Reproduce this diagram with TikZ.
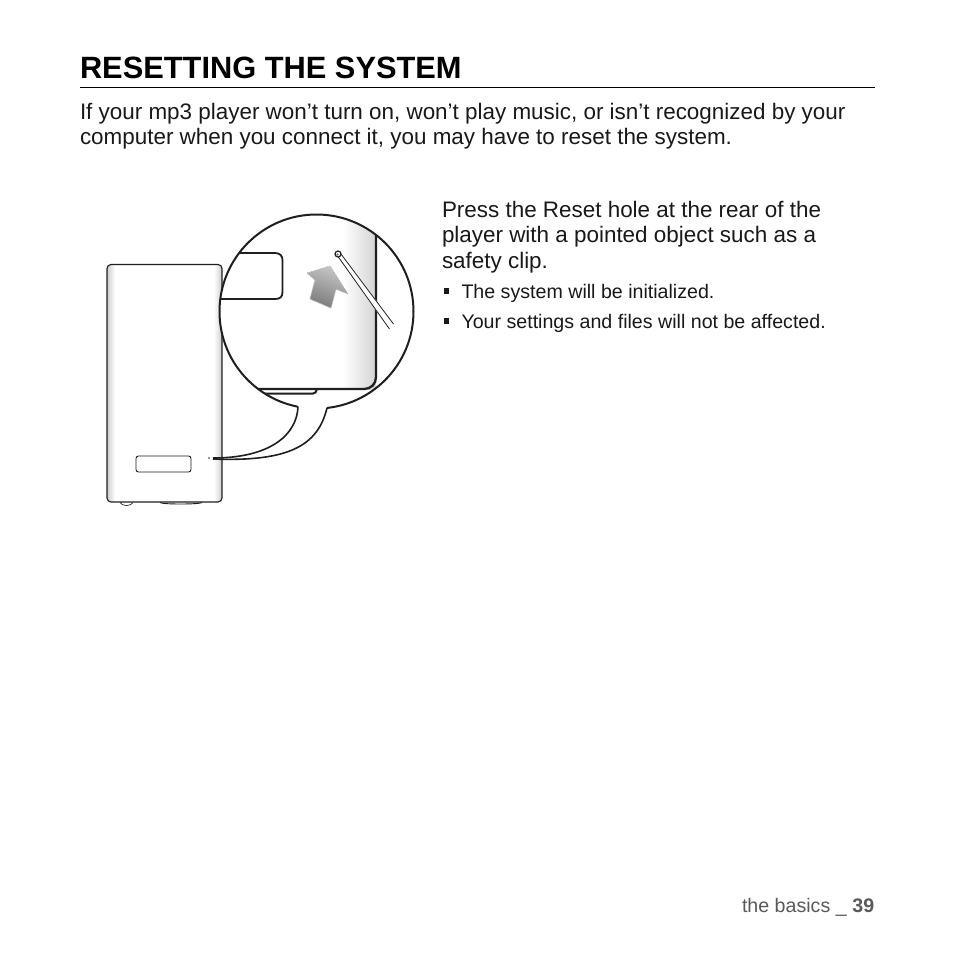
\documentclass[tikz,border=0pt]{standalone}
\usepackage{fontspec}
\setmainfont{Liberation Sans}
\definecolor{ink}{gray}{0.1}
\definecolor{linek}{gray}{0.12}
\tikzset{
  x=1pt,y=-1pt,
  txt/.style={anchor=base west,inner sep=0pt,outer sep=0pt,text=ink},
  body/.style={txt,font=\fontsize{22.43}{26}\selectfont},
  small/.style={txt,font=\fontsize{19.62}{22}\selectfont},
  bulletmark/.style={fill=ink,draw=none},
  outline/.style={draw=linek,line width=1.1pt},
  thick outline/.style={draw=linek,line width=2pt},
}
\begin{document}
\begin{tikzpicture}
\useasboundingbox (0,0) rectangle (954,954);
\fill[white] (0,0) rectangle (954,954);
% heading
\node[txt,font=\bfseries\fontsize{30.8}{34}\selectfont,text=black] (title) at (80,78) {RESETTING THE SYSTEM};
\draw[line width=0.8pt,draw=black] (80,87) coordinate (ruleL) -- (875,87) coordinate (ruleR);
\node[body] (intro1) at (80,119) {If your mp3 player won’t turn on, won’t play music, or isn’t recognized by your};
\node[body] (intro2) at (80,144) {computer when you connect it, you may have to reset the system.};
\node[body] (press1) at (442,217) {Press the Reset hole at the rear of the};
\node[body] (press2) at (442,242) {player with a pointed object such as a};
\node[body] (press3) at (442,268) {safety clip.};
\fill[bulletmark] (444.2,288) rectangle (448.8,293.8);
\node[small] (b1) at (461.5,298) {The system will be initialized.};
\fill[bulletmark] (444.2,318) rectangle (448.8,323.8);
\node[small] (b2) at (461.5,328) {Your settings and files will not be affected.};
\node[txt,font=\fontsize{19.62}{22}\selectfont,text=black!65] (foot) at (742,912) {the basics \_ \textbf{39}};
% player
\begin{scope}
  \clip[rounded corners=4pt] (107,264.5) rectangle (222,502);
  \shade[left color=black!20,right color=white] (107,264) rectangle (115,502);
  \shade[left color=white,right color=black!20] (214,264) rectangle (222,502);
\end{scope}
\draw[outline,rounded corners=4pt] (107,264.5) rectangle (222,502);
\draw[draw=linek,line width=0.9pt,rounded corners=2.5pt] (136,456) rectangle (191,472);
\draw[draw=linek,line width=0.7pt] (120,502.5) .. controls (122,506.5) and (131,506.5) .. (133,502.5);
\draw[draw=linek,line width=0.9pt] (160,502.5) .. controls (161,504.5) and (200,504.5) .. (202,502.5);
\fill[black!55] (209,458) circle (1.1);
% magnifier
\fill[white] (316.5,311.5) circle (97);
\begin{scope}
  \clip (316.5,311.5) circle (97);
  \shade[left color=white,right color=black!17] (343,205) rectangle (376,389);
  \fill[white] (376.8,375) rectangle (420,420);
  \fill[white] (200,390) rectangle (420,420);
  % bottom tab
  \draw[line width=2pt,draw=linek] (258,393.5) -- (313,393.5) .. controls (315,393.5) and (316.5,392) .. (317,389);
  % device edge
  \draw[line width=2.3pt,draw=linek] (376,205) -- (376,377) .. controls (376,384) and (371,389) .. (364,389) -- (200,389);
  % window
  \draw[line width=1.8pt,draw=linek] (210,253) -- (275,253) .. controls (280,253) and (282.5,256) .. (282.5,260) -- (282.5,292) .. controls (282.5,297) and (280,299) .. (275,299) -- (210,299);
  % pin
  \fill[white] (336.5,256) -- (340.5,252) -- (393.5,324) -- (389.5,329) -- cycle;
\end{scope}
\shade[top color=black!22,bottom color=black!52,shading angle=-20,draw=none]
  (330,266) -- (307,273) -- (315,280) -- (310,299) -- (331,308) -- (336,289) -- (348,294) -- cycle;
\draw[draw=black!30,densely dotted,line width=0.9pt] (330,266) -- (307,273) -- (315,280) -- (310,299) -- (331,308) -- (336,289) -- (348,294) -- cycle;
\draw[draw=linek,line width=0.8pt] (338,256.5) -- (389.5,329);
\draw[draw=linek,line width=0.8pt] (341,254) -- (393.5,324);
\draw[draw=linek,line width=1.2pt,fill=white] (338,254) circle (3);
\fill[black!60] (337.6,254.4) circle (1.2);
\draw[thick outline] (316.5,311.5) circle (97);
% tail
\fill[white] (298,405) .. controls (297,435) and (270,458) .. (213,458) .. controls (290,462) and (318,445) .. (327,406) -- cycle;
\draw[draw=linek,line width=1.6pt] (298,406.5) .. controls (297,435) and (270,458) .. (213,458);
\draw[draw=linek,line width=1.6pt] (327,408) .. controls (318,445) and (290,462) .. (213,459);
\end{tikzpicture}
\end{document}
